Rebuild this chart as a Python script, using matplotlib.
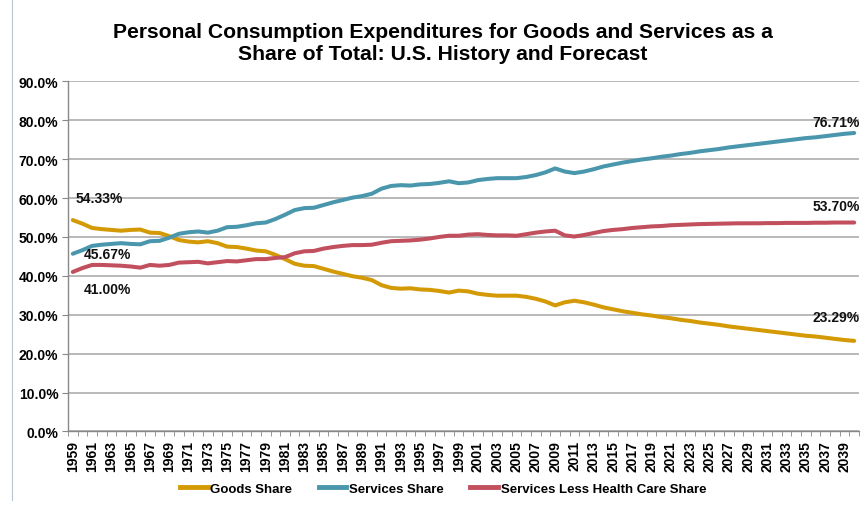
import numpy as np
import matplotlib
matplotlib.use('Agg')
import matplotlib.pyplot as plt
from matplotlib.ticker import FixedLocator, FuncFormatter
from matplotlib.lines import Line2D

plt.rcParams['font.family'] = ['Liberation Sans', 'DejaVu Sans']

years = list(range(1959, 2041))

goods = [54.33, 53.4, 52.3, 52.0, 51.8, 51.6, 51.8, 51.9, 51.1, 51.0,
         50.2, 49.2, 48.8, 48.6, 48.9, 48.4, 47.5, 47.4, 47.0, 46.5,
         46.3, 45.4, 44.3, 43.1, 42.6, 42.5, 41.8, 41.1, 40.5, 39.9,
         39.5, 38.9, 37.6, 36.9, 36.7, 36.8, 36.5, 36.4, 36.1, 35.7,
         36.2, 36.0, 35.4, 35.1, 34.9, 34.9, 34.9, 34.6, 34.1, 33.4,
         32.4, 33.2, 33.6, 33.2, 32.6, 31.9, 31.4, 30.9, 30.5, 30.1,
         29.8, 29.4, 29.1, 28.7, 28.4, 28.0, 27.7, 27.4, 27.0, 26.7,
         26.4, 26.1, 25.8, 25.5, 25.2, 24.9, 24.6, 24.4, 24.1, 23.8,
         23.5, 23.29]

services = [45.67, 46.6, 47.7, 48.0, 48.2, 48.4, 48.2, 48.1, 48.9, 49.0,
            49.8, 50.8, 51.2, 51.4, 51.1, 51.6, 52.5, 52.6, 53.0, 53.5,
            53.7, 54.6, 55.7, 56.9, 57.4, 57.5, 58.2, 58.9, 59.5, 60.1,
            60.5, 61.1, 62.4, 63.1, 63.3, 63.2, 63.5, 63.6, 63.9, 64.3,
            63.8, 64.0, 64.6, 64.9, 65.1, 65.1, 65.1, 65.4, 65.9, 66.6,
            67.6, 66.8, 66.4, 66.8, 67.4, 68.1, 68.6, 69.1, 69.5, 69.9,
            70.2, 70.6, 70.9, 71.3, 71.6, 72.0, 72.3, 72.6, 73.0, 73.3,
            73.6, 73.9, 74.2, 74.5, 74.8, 75.1, 75.4, 75.6, 75.9, 76.2,
            76.5, 76.71]

less_health = [41.00, 42.0, 42.8, 42.8, 42.7, 42.6, 42.4, 42.1, 42.8, 42.6,
               42.8, 43.4, 43.5, 43.6, 43.2, 43.5, 43.8, 43.7, 44.0, 44.3,
               44.3, 44.6, 44.8, 45.8, 46.3, 46.4, 47.0, 47.4, 47.7, 47.9,
               47.9, 48.0, 48.5, 48.9, 49.0, 49.1, 49.3, 49.6, 50.0, 50.3,
               50.3, 50.6, 50.7, 50.5, 50.4, 50.4, 50.3, 50.7, 51.1, 51.4,
               51.6, 50.4, 50.1, 50.5, 51.0, 51.5, 51.8, 52.0, 52.3, 52.5,
               52.7, 52.8, 53.0, 53.1, 53.2, 53.3, 53.35, 53.4, 53.45, 53.5,
               53.5, 53.5, 53.55, 53.55, 53.6, 53.6, 53.6, 53.65, 53.65, 53.7,
               53.7, 53.70]

names = ['Goods Share', 'Services Share', 'Services Less Health Care Share']
colors = ['#D49A05', '#4A97AD', '#C14F5E']

fig = plt.figure(figsize=(8.67, 5.06), dpi=100)
ax = fig.add_axes([0.0784, 0.1453, 0.9124, 0.6921])

x = np.arange(len(years))
for vals, c in zip([goods, services, less_health], colors):
    ax.plot(x, vals, color=c, lw=2.9, solid_capstyle='round', zorder=3)

ax.set_xlim(-0.5, len(years) - 0.5)
ax.set_ylim(0, 90)

# y axis
ax.set_yticks(np.arange(0, 91, 10))
ax.yaxis.set_major_formatter(FuncFormatter(lambda v, p: '%.1f%%' % v))
ax.grid(axis='y', color='#b3b3b3', lw=1.3, zorder=0)
ax.tick_params(axis='y', length=4, color='#888888', labelsize=10, pad=3)

# x axis: ticks between categories, labels every other year
ax.xaxis.set_minor_locator(FixedLocator(np.arange(-0.5, len(years), 1)))
ax.set_xticks(x[::2])
ax.set_xticklabels([str(y) for y in years[::2]], rotation=90)
ax.tick_params(axis='x', which='major', length=0, labelsize=10, pad=6)
ax.tick_params(axis='x', which='minor', length=3.5, color='#888888')

for lab in ax.get_xticklabels() + ax.get_yticklabels():
    lab.set_fontweight('bold')

for s in ['top', 'right']:
    ax.spines[s].set_visible(False)
for s in ['left', 'bottom']:
    ax.spines[s].set_color('#888888')
    ax.spines[s].set_linewidth(1.0)

# value labels
lab_kw = dict(fontsize=10, fontweight='bold', color='#111111')
ax.text(0.33, 60.0, '54.33%', ha='left', va='center', **lab_kw)
ax.text(1.16, 45.5, '45.67%', ha='left', va='center', **lab_kw)
ax.text(1.16, 36.5, '41.00%', ha='left', va='center', **lab_kw)
ax.text(81.6, 79.5, '76.71%', ha='right', va='center', **lab_kw)
ax.text(81.6, 58.0, '53.70%', ha='right', va='center', **lab_kw)
ax.text(81.6, 29.5, '23.29%', ha='right', va='center', **lab_kw)

fig.text(0.511, 0.915, 'Personal Consumption Expenditures for Goods and Services as a\nShare of Total: U.S. History and Forecast',
         ha='center', va='center', fontsize=15.2, fontweight='bold', linespacing=1.2)

handles = [Line2D([0], [0], color=c, lw=3.5) for c in colors]
leg = fig.legend(handles, names, loc='center', bbox_to_anchor=(0.511, 0.032),
                 ncol=3, frameon=False, handlelength=2.1, handletextpad=0.2,
                 columnspacing=2.0, prop={'weight': 'bold', 'size': 9.5})

# thin frame edge on the left of the screenshot
fig.add_artist(Line2D([12 / 867, 12 / 867], [0.01, 1.0], color='#b8c4d0', lw=0.8))

fig.savefig('out.png', dpi=100)
